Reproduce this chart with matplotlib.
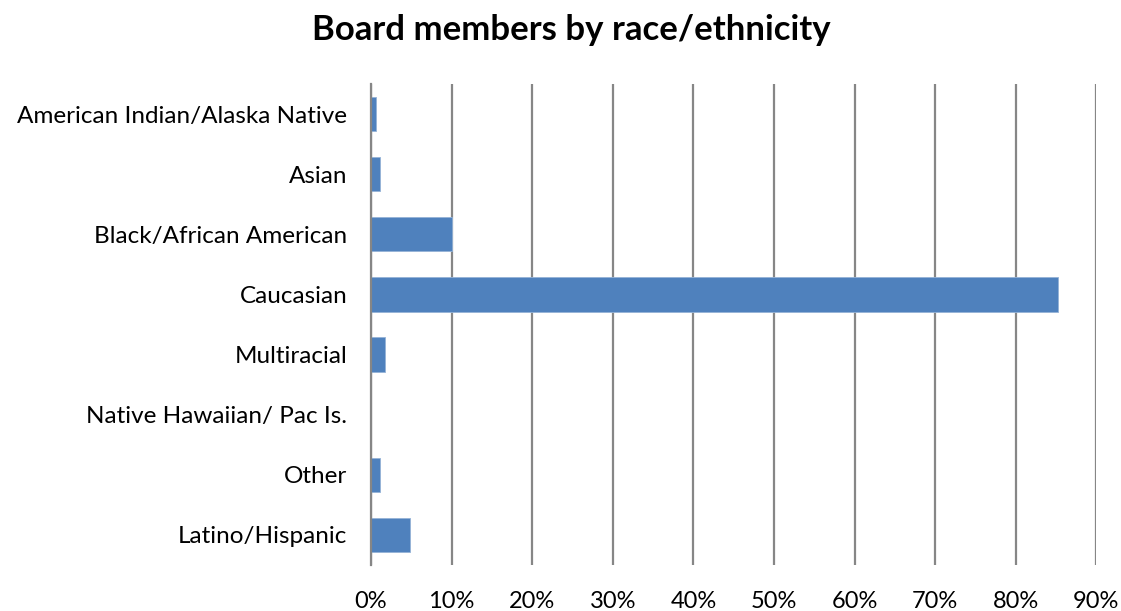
import matplotlib.pyplot as plt
import numpy as np

plt.rcParams['font.family'] = ['Lato', 'DejaVu Sans']

categories = ["American Indian/Alaska Native", "Asian", "Black/African American",
              "Caucasian", "Multiracial", "Native Hawaiian/ Pac Is.", "Other",
              "Latino/Hispanic"]
shares = [0.6, 1.1, 10.0, 85.3, 1.7, 0.0, 1.1, 4.8]
ticks = list(range(0, 100, 10))

fig = plt.figure(figsize=(11.21, 6.11), dpi=100)
ax = fig.add_axes([0.331, 0.0753, 0.647, 0.7872])

y = np.arange(len(categories))
ax.barh(y, shares, height=0.57, color='#4F81BD', edgecolor='#95B3D7', linewidth=0.6, zorder=3)
ax.set_ylim(len(categories) - 0.5, -0.5)
ax.set_xlim(0, 90)
ax.set_xticks(ticks)
ax.set_xticklabels([f"{t}%" for t in ticks], fontsize=17)
ax.set_yticks(y)
ax.set_yticklabels(categories, fontsize=17.5)
ax.tick_params(axis='y', length=0, pad=17)
ax.tick_params(axis='x', length=0, pad=19)

ax.grid(axis='x', color='#868686', linewidth=1.6, zorder=0)
for s in ['top', 'right', 'bottom']:
    ax.spines[s].set_visible(False)
ax.spines['left'].set_color('#868686')
ax.spines['left'].set_linewidth(1.6)
ax.spines['left'].set_zorder(4)

fig.text(0.51, 0.951, "Board members by race/ethnicity", ha='center', va='center',
         fontsize=25, fontweight='bold')

fig.savefig("out.png", dpi=100, facecolor='white')
